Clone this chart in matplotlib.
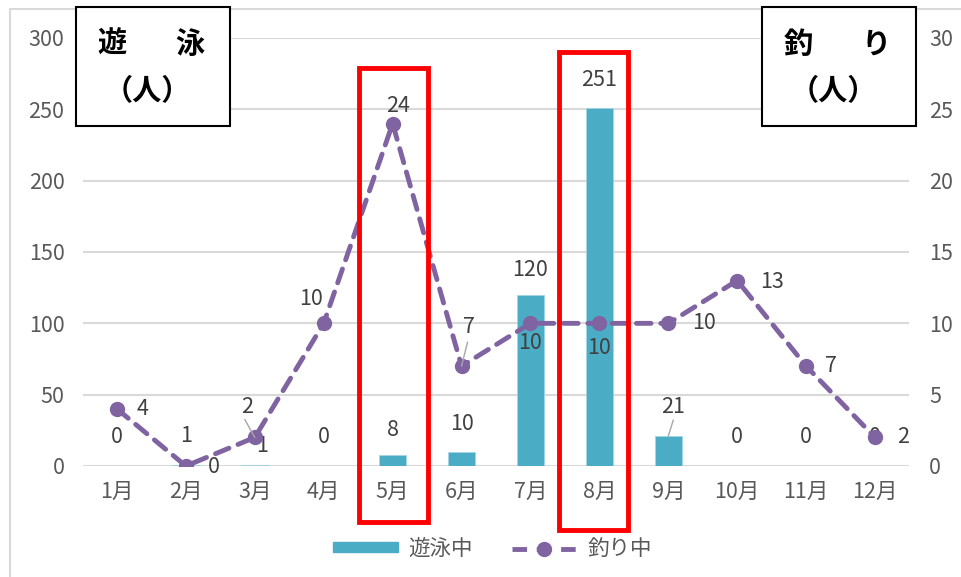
import matplotlib.pyplot as plt
from matplotlib.patches import Rectangle
from matplotlib.lines import Line2D
import matplotlib.transforms as mtransforms
import numpy as np

plt.rcParams['font.family'] = ['Noto Sans CJK JP', 'DejaVu Sans']

# data
months = ['1月', '2月', '3月', '4月', '5月', '6月', '7月', '8月', '9月', '10月', '11月', '12月']
swim = [0, 1, 1, 0, 8, 10, 120, 251, 21, 0, 0, 0]
fish = [4, 0, 2, 10, 24, 7, 10, 10, 10, 13, 7, 2]
highlight = ['5月', '8月']

bar_color = '#4BACC6'
line_color = '#8064A2'
tick_color = '#595959'
label_color = '#404040'
fs = 15.5

W, H = 962, 577
fig = plt.figure(figsize=(W / 100, H / 100), dpi=100)
ax = fig.add_axes([82.5 / W, 1 - 466 / H, 827 / W, 428 / H])
ax2 = ax.twinx()

x = np.arange(len(months))
ax.bar(x, swim, width=0.4, color=bar_color, edgecolor='#A5D5E2', linewidth=0.6, zorder=2)
ax2.plot(x, fish, color=line_color, lw=3.5, dashes=(3, 2), marker='o', ms=10,
         dash_capstyle='round', zorder=3)

ax.set_xlim(-0.5, len(months) - 0.5)
ax.set_ylim(0, 300)
ax2.set_ylim(0, 30)
ax.set_yticks(range(0, 301, 50))
ax2.set_yticks(range(0, 31, 5))
ax.set_xticks(x)
ax.set_xticklabels(months)
ax.grid(axis='y', color='#D9D9D9', lw=1.5, zorder=0)
ax.set_axisbelow(True)
for a in (ax, ax2):
    for s in a.spines.values():
        s.set_visible(False)
    a.tick_params(length=0, labelsize=fs, labelcolor=tick_color)
ax.tick_params(axis='y', pad=13)
ax2.tick_params(axis='y', pad=14)
ax.tick_params(axis='x', pad=11)

# data labels for swimming (pixel offsets from bar top)
swim_off = [(0, 29), (0, 29), (7, 19), (0, 29), (0, 25), (0, 28),
            (0, 25), (0, 28), (5, 29), (0, 29), (0, 29), (0, 29)]
for i, v in enumerate(swim):
    dx, dy = swim_off[i]
    ax.annotate(str(v), (i, v), xytext=(dx, dy), textcoords='offset pixels',
                ha='center', va='center', fontsize=fs, color=label_color,
                annotation_clip=False, zorder=5)
# leader for 9月
ax.annotate('', (8, swim[8]), xytext=(5, 16), textcoords='offset pixels',
            arrowprops=dict(arrowstyle='-', color='#A6A6A6', lw=1, shrinkA=0, shrinkB=0))

# data labels for fishing
fish_off = [(26, 0), (28, -1), (-8, 30), (-13, 24), (5, 18), (7, 39),
            (0, -20), (0, -25), (36, 0), (35, -1), (25, 0), (28, 0)]
for i, v in enumerate(fish):
    dx, dy = fish_off[i]
    ax2.annotate(str(v), (i, v), xytext=(dx, dy), textcoords='offset pixels',
                 ha='center', va='center', fontsize=fs, color=label_color,
                 annotation_clip=False, zorder=5)
# leaders for 3月 and 6月
ax2.annotate('', (2, fish[2]), xytext=(-10, 18), textcoords='offset pixels',
             arrowprops=dict(arrowstyle='-', color='#A6A6A6', lw=1, shrinkA=0, shrinkB=0))
ax2.annotate('', (5, fish[5]), xytext=(6, 24), textcoords='offset pixels',
             arrowprops=dict(arrowstyle='-', color='#A6A6A6', lw=1, shrinkA=0, shrinkB=0))

# red highlight boxes (x in data units around the month, y in figure)
trans = mtransforms.blended_transform_factory(ax.transData, fig.transFigure)
boxes = {'5月': (-0.49, 0.52, 1 - 522 / H, 454 / H),
         '8月': (-0.59, 0.42, 1 - 530 / H, 478 / H)}
for m in highlight:
    i = months.index(m)
    l, r, y0, h = boxes[m]
    fig.patches.append(Rectangle((i + l, y0), r - l, h, transform=trans, fill=False,
                                 edgecolor='#FF0000', lw=3.5, zorder=10))

# unit boxes
for (bx, c1, c2) in [(76, '遊', '泳'), (762, '釣', 'り')]:
    fig.patches.append(Rectangle((bx / W, 1 - 126 / H), 154 / W, 119 / H,
                                 transform=fig.transFigure, facecolor='white',
                                 edgecolor='black', lw=1.5, zorder=11))
    fig.text((bx + 36) / W, 1 - 44 / H, c1, ha='center', va='center',
             fontsize=21, fontweight='bold', zorder=12)
    fig.text((bx + 114) / W, 1 - 44 / H, c2, ha='center', va='center',
             fontsize=21, fontweight='bold', zorder=12)
    fig.text((bx + 71) / W, 1 - 91 / H, '（人）', ha='center', va='center',
             fontsize=21, fontweight='bold', zorder=12)

# legend
handles = [Rectangle((0, 0), 1, 1, color=bar_color),
           Line2D([], [], color=line_color, lw=3.5, dashes=(3, 2), marker='o', ms=10)]
leg = fig.legend(handles, ['遊泳中', '釣り中'], loc='center', bbox_to_anchor=(0.512, 1 - 549 / H),
                 ncol=2, frameon=False, fontsize=fs, handlelength=3.0, handleheight=0.35,
                 columnspacing=1.8, handletextpad=0.5)
for t in leg.get_texts():
    t.set_color(tick_color)

# outer chart frame
fig.add_artist(Line2D([10 / W, 10 / W], [0, 1 - 9 / H], transform=fig.transFigure,
                      color='#D9D9D9', lw=1.5))
fig.add_artist(Line2D([10 / W, 1], [1 - 9 / H, 1 - 9 / H], transform=fig.transFigure,
                      color='#D9D9D9', lw=1.5))

fig.savefig('out.png', dpi=100)
